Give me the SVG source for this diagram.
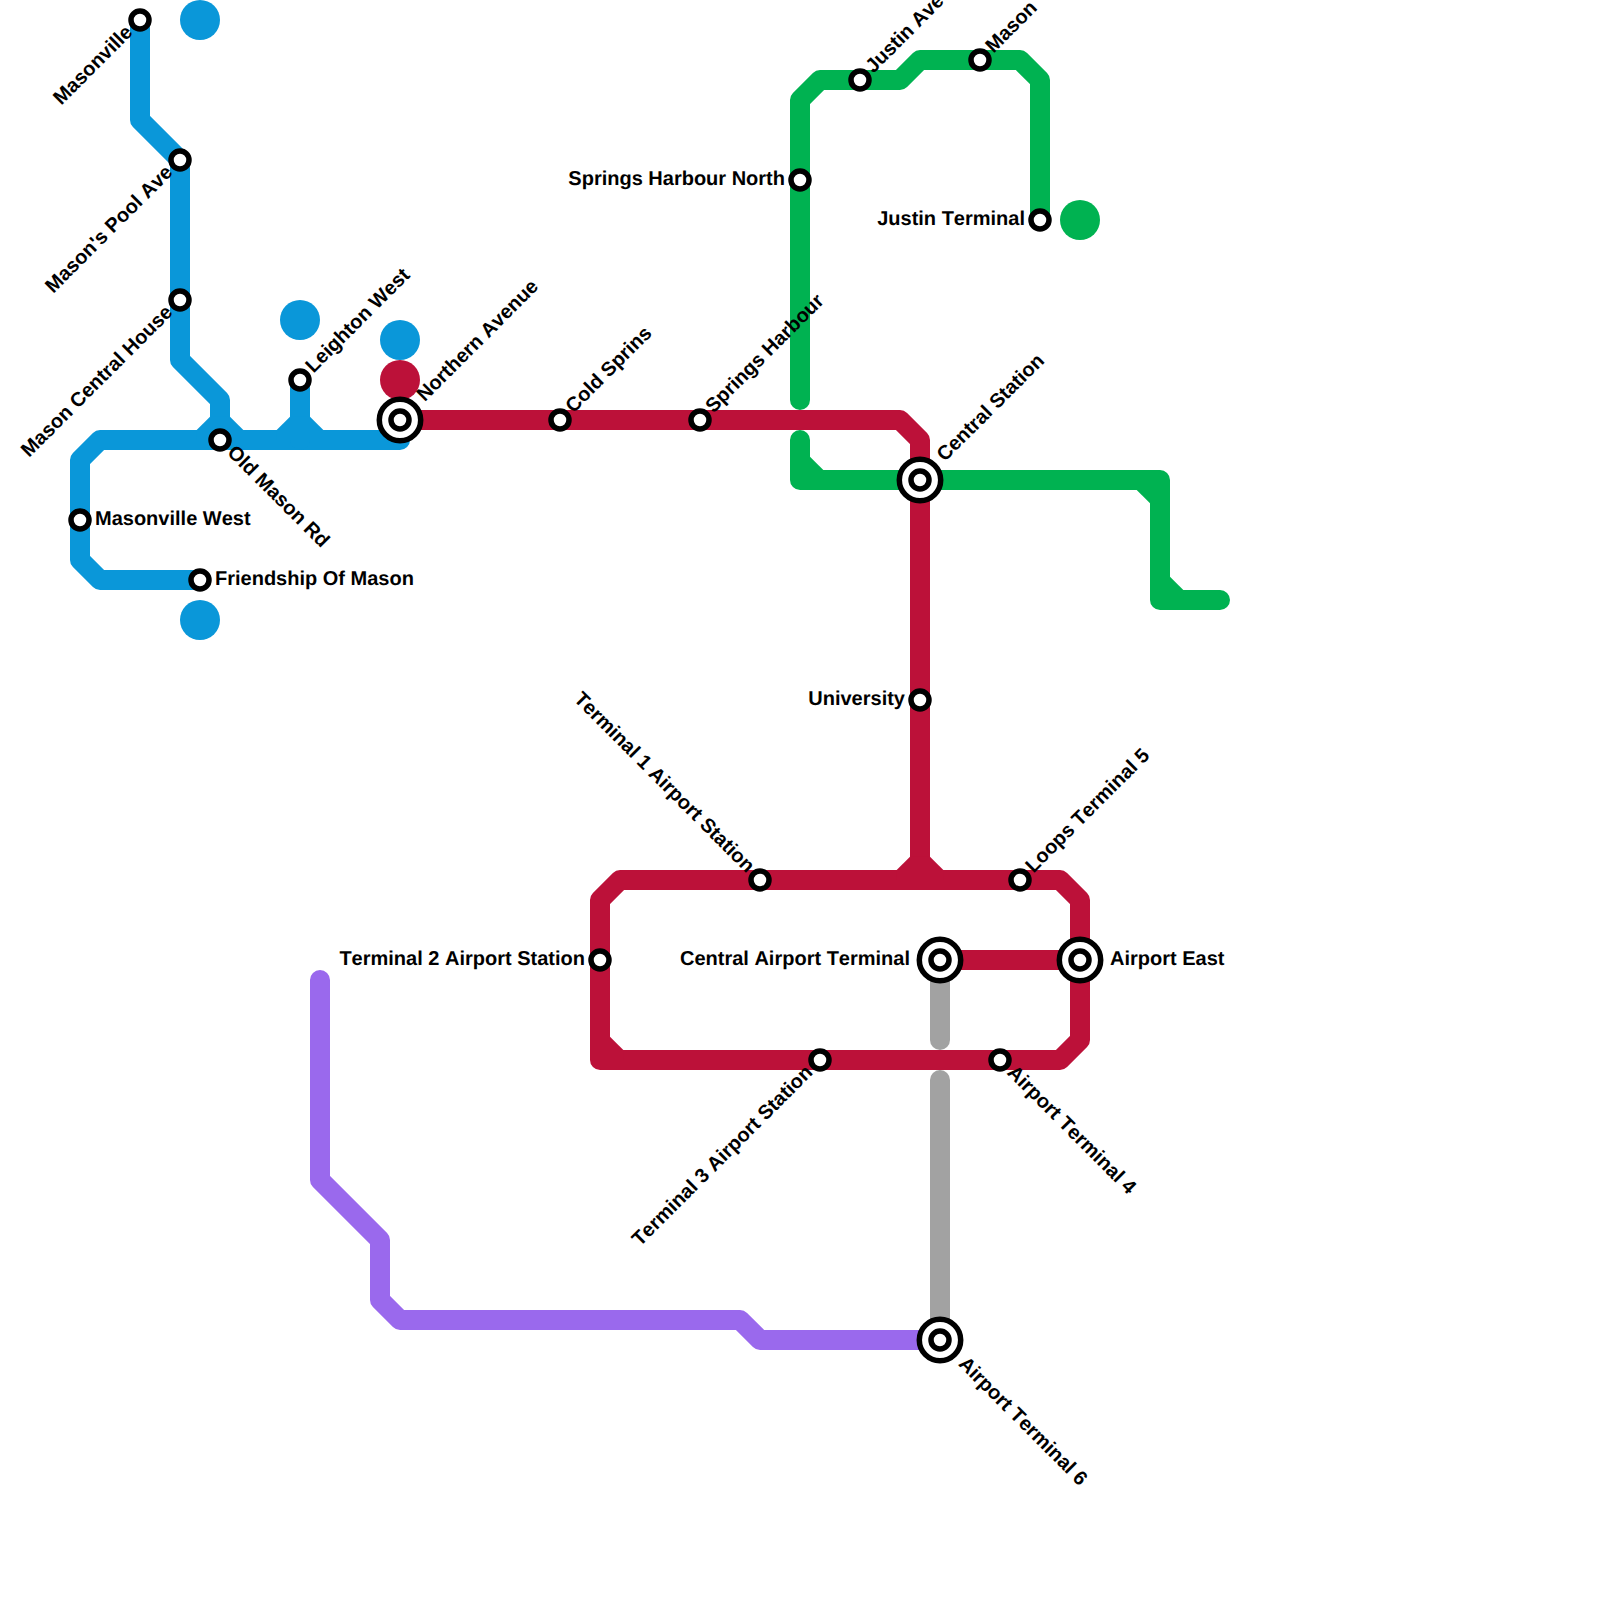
<svg xmlns="http://www.w3.org/2000/svg" width="1600" height="1600" viewBox="0 0 1600 1600">
<defs><style>
.l{fill:none;stroke-width:20;stroke-linecap:round;stroke-linejoin:round}
.b{stroke:#0a97d9}.r{stroke:#bc1139}.g{stroke:#00b251}.p{stroke:#9a69ed}.y{stroke:#a2a2a2}
.fb{fill:#0a97d9}.fr{fill:#bc1139}.fg{fill:#00b251}
.s{fill:#fff;stroke:#000;stroke-width:5.500}
text{font-family:"Liberation Sans",Arial,sans-serif;font-weight:700;font-size:20px;fill:#000;font-kerning:none;text-rendering:geometricPrecision}
.e{text-anchor:end}
</style></defs>
<rect width="1600" height="1600" fill="#fff"/>
<g id="connectors">
<path class="l b" d="M140 20V120L180 160V360L220 400V440"/>
<path class="l b" d="M200 580H100L80 560V460L100 440H400V420"/>
<path class="l b" d="M300 380V440"/>
<polygon class="fb" points="196.700,430 210,416.700 230,416.700 243.300,430 243.300,440 196.700,440"/>
<polygon class="fb" points="276.700,430 290,416.700 310,416.700 323.300,430 323.300,440 276.700,440"/>
<path class="l p" d="M320 980V1180L380 1240V1300L400 1320H740L760 1340H940"/>
<path class="l y" d="M940 960V1040"/>
<path class="l y" d="M940 1080V1340"/>
<path class="l r" d="M400 420H900L920 440V880"/>
<path class="l r" d="M1080 960V900L1060 880H620L600 900V1060H1060L1080 1040V960"/>
<path class="l r" d="M940 960H1080"/>
<polygon class="fr" points="896.700,870 910,856.700 930,856.700 943.300,870 943.300,880 896.700,880"/>
<polygon class="fr" points="610,1036.700 623.300,1050 623.300,1060 610,1060"/>
<path class="l g" d="M800 400V100L820 80H900L920 60H1020L1040 80V220"/>
<path class="l g" d="M800 440V480H920"/>
<path class="l g" d="M920 480H1160V600H1220"/>
<polygon class="fg" points="810,456.700 823.300,470 823.300,480 810,480"/>
<polygon class="fg" points="1136.700,490 1150,503.300 1160,503.300 1160,490"/>
<polygon class="fg" points="1170,576.700 1183.300,590 1183.300,600 1170,600"/>
</g>
<g id="terminals">
<circle class="fb" cx="200" cy="20" r="20"/>
<circle class="fb" cx="300" cy="320" r="20"/>
<circle class="fb" cx="400" cy="340" r="20"/>
<circle class="fr" cx="400" cy="380" r="20"/>
<circle class="fb" cx="200" cy="620" r="20"/>
<circle class="fg" cx="1080" cy="220" r="20"/>
</g>
<g id="masonville"><circle class="s" cx="140" cy="20" r="9"/><text class="e" transform="translate(140 20) rotate(-45)" x="-14" y="5">Masonville</text></g>
<g id="masons-pool-ave"><circle class="s" cx="180" cy="160" r="9"/><text class="e" transform="translate(180 160) rotate(-45)" x="-14" y="5">Mason's Pool Ave</text></g>
<g id="mason-central-house"><circle class="s" cx="180" cy="300" r="9"/><text class="e" transform="translate(180 300) rotate(-45)" x="-14" y="5">Mason Central House</text></g>
<g id="leighton-west"><circle class="s" cx="300" cy="380" r="9"/><text transform="translate(300 380) rotate(-45)" x="14" y="5">Leighton West</text></g>
<g id="old-mason-rd"><circle class="s" cx="220" cy="440" r="9"/><text transform="translate(220 440) rotate(45)" x="14" y="5">Old Mason Rd</text></g>
<g id="masonville-west"><circle class="s" cx="80" cy="520" r="9"/><text x="95" y="525">Masonville West</text></g>
<g id="friendship-of-mason"><circle class="s" cx="200" cy="580" r="9"/><text x="215" y="585">Friendship Of Mason</text></g>
<g id="northern-avenue"><circle class="s" cx="400" cy="420" r="20.700"/><circle class="s" cx="400" cy="420" r="9"/><text transform="translate(400 420) rotate(-45)" x="30" y="5">Northern Avenue</text></g>
<g id="cold-sprins"><circle class="s" cx="560" cy="420" r="9"/><text transform="translate(560 420) rotate(-45)" x="14" y="5">Cold Sprins</text></g>
<g id="springs-harbour"><circle class="s" cx="700" cy="420" r="9"/><text transform="translate(700 420) rotate(-45)" x="14" y="5">Springs Harbour</text></g>
<g id="springs-harbour-north"><circle class="s" cx="800" cy="180" r="9"/><text class="e" x="785" y="185">Springs Harbour North</text></g>
<g id="justin-ave"><circle class="s" cx="860" cy="80" r="9"/><text transform="translate(860 80) rotate(-45)" x="14" y="5">Justin Ave</text></g>
<g id="mason"><circle class="s" cx="980" cy="60" r="9"/><text transform="translate(980 60) rotate(-45)" x="14" y="5">Mason</text></g>
<g id="justin-terminal"><circle class="s" cx="1040" cy="220" r="9"/><text class="e" x="1025" y="225">Justin Terminal</text></g>
<g id="central-station"><circle class="s" cx="920" cy="480" r="20.700"/><circle class="s" cx="920" cy="480" r="9"/><text transform="translate(920 480) rotate(-45)" x="30" y="5">Central Station</text></g>
<g id="university"><circle class="s" cx="920" cy="700" r="9"/><text class="e" x="905" y="705">University</text></g>
<g id="terminal-1"><circle class="s" cx="760" cy="880" r="9"/><text class="e" transform="translate(760 880) rotate(45)" x="-14" y="5">Terminal 1 Airport Station</text></g>
<g id="loops-terminal-5"><circle class="s" cx="1020" cy="880" r="9"/><text transform="translate(1020 880) rotate(-45)" x="14" y="5">Loops Terminal 5</text></g>
<g id="terminal-2"><circle class="s" cx="600" cy="960" r="9"/><text class="e" x="585" y="965">Terminal 2 Airport Station</text></g>
<g id="central-airport-terminal"><circle class="s" cx="940" cy="960" r="20.700"/><circle class="s" cx="940" cy="960" r="9"/><text class="e" x="910" y="965">Central Airport Terminal</text></g>
<g id="airport-east"><circle class="s" cx="1080" cy="960" r="20.700"/><circle class="s" cx="1080" cy="960" r="9"/><text x="1110" y="965">Airport East</text></g>
<g id="terminal-3"><circle class="s" cx="820" cy="1060" r="9"/><text class="e" transform="translate(820 1060) rotate(-45)" x="-14" y="5">Terminal 3 Airport Station</text></g>
<g id="airport-terminal-4"><circle class="s" cx="1000" cy="1060" r="9"/><text transform="translate(1000 1060) rotate(45)" x="14" y="5">Airport Terminal 4</text></g>
<g id="airport-terminal-6"><circle class="s" cx="940" cy="1340" r="20.700"/><circle class="s" cx="940" cy="1340" r="9"/><text transform="translate(940 1340) rotate(45)" x="30" y="5">Airport Terminal 6</text></g>
</svg>
